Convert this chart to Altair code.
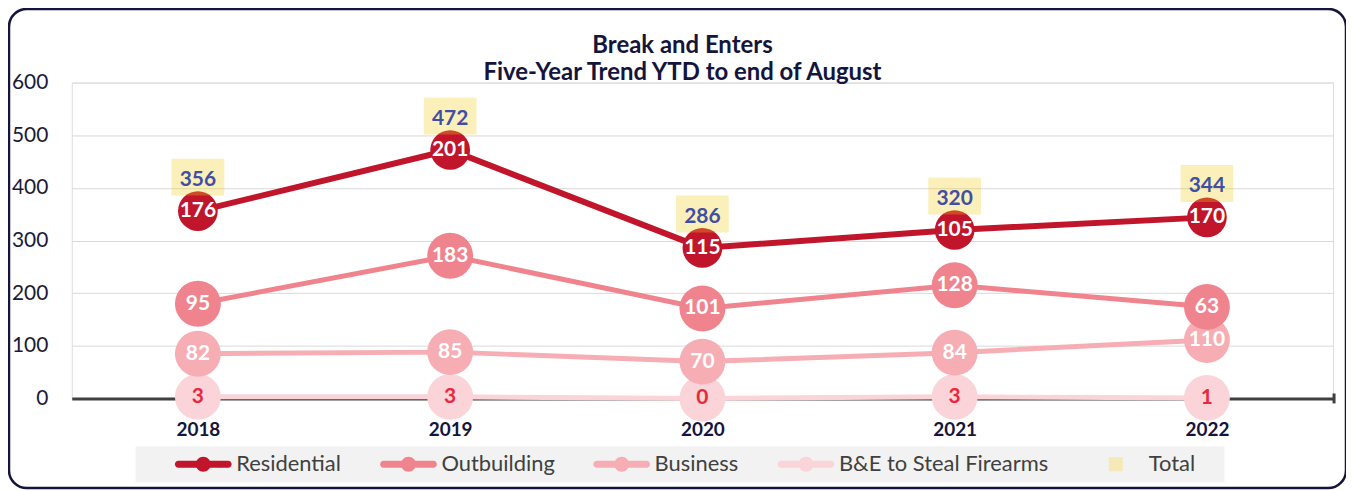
import altair as alt
import pandas as pd

years = ["2018", "2019", "2020", "2021", "2022"]
residential = [176, 201, 115, 105, 170]
outbuilding = [95, 183, 101, 128, 63]
business = [82, 85, 70, 84, 110]
firearms = [3, 3, 0, 3, 1]
totals = [356, 472, 286, 320, 344]

title_lines = ["Break and Enters", "Five-Year Trend YTD to end of August"]

series_names = ["B&E to Steal Firearms", "Business", "Outbuilding", "Residential"]
series_values = [firearms, business, outbuilding, residential]
series_colors = ["#FAD4D8", "#F6AEB4", "#F0848E", "#C0152B"]
line_widths = [5, 5, 5, 6]
circle_sizes = [2124, 2124, 2124, 1590]
label_colors = ["#E8283C", "white", "white", "white"]

legend_names = ["Residential", "Outbuilding", "Business", "B&E to Steal Firearms", "Total"]
legend_colors = ["#C0152B", "#F0848E", "#F6AEB4", "#FAD4D8", "#F5E9B8"]
LINE_DOT = ("M-0.63,-0.37L4.63,-0.37A0.37,0.37,0,0,1,4.63,0.37L-0.63,0.37"
            "A0.37,0.37,0,0,1,-0.63,-0.37Z M1.21,0A0.79,0.79,0,1,1,2.79,0"
            "A0.79,0.79,0,1,1,1.21,0Z")
SQUARE = "M1.26,-0.74L2.74,-0.74L2.74,0.74L1.26,0.74Z"
legend_shapes = [LINE_DOT, LINE_DOT, LINE_DOT, LINE_DOT, SQUARE]

# stacked positions (lines are cumulative, bottom series first)
rows = []
cum = [0] * len(years)
for name, vals in zip(series_names, series_values):
    for i, y in enumerate(years):
        cum[i] += vals[i]
        rows.append({"year": y, "series": name, "value": vals[i], "pos": cum[i]})
df = pd.DataFrame(rows)
tot_df = pd.DataFrame({"year": years, "total": totals})

W, H = 1266, 317
FONT = "Lato"

x_enc = alt.X("year:N", sort=years,
              scale=alt.Scale(type="point", padding=0.5),
              axis=alt.Axis(title=None, labelAngle=0, labelFont=FONT, labelFontSize=19,
                            labelFontWeight="bold", labelColor="#14143C", labelPadding=22,
                            ticks=False, tickSize=0, domainColor="#404040", domainWidth=3,
                            grid=False, labelBaseline="top"))
y_scale = alt.Scale(domain=[0, 600], nice=False)
y_axis = alt.Axis(title=None, values=[0, 100, 200, 300, 400, 500, 600], grid=True,
                  gridColor="#D9D9D9", gridWidth=1, domain=False, ticks=False, tickSize=0,
                  labelPadding=24, labelFont=FONT, labelFontSize=21, labelColor="#1A1A3A")

one = alt.Data(values=[{"a": 1}])

legend_bg = alt.Chart(one).mark_rect(color="#F2F2F2").encode(
    x=alt.value(64), x2=alt.value(1157), y=alt.value(365), y2=alt.value(401))
border = alt.Chart(one).mark_rect(filled=False, stroke="#14143C", strokeWidth=2.5,
                                  cornerRadius=18).encode(
    x=alt.value(-63), x2=alt.value(1279), y=alt.value(-74), y2=alt.value(407))
end_tick = alt.Chart(one).mark_rule(color="#404040", strokeWidth=3).encode(
    x=alt.value(W + 1), y=alt.value(H - 5), y2=alt.value(H + 5))
title1 = alt.Chart(one).mark_text(
    text=title_lines[0], font=FONT, fontSize=24, fontWeight="bold", color="#14143C",
    align="center", baseline="alphabetic").encode(x=alt.value(613), y=alt.value(-30))
title2 = alt.Chart(one).mark_text(
    text=title_lines[1], font=FONT, fontSize=24, fontWeight="bold", color="#14143C",
    align="center", baseline="alphabetic").encode(x=alt.value(613), y=alt.value(-3))

layers = [legend_bg, border, title1, title2]
for name, col, lw in zip(series_names, series_colors, line_widths):
    layers.append(
        alt.Chart(df).transform_filter(alt.datum.series == name)
        .mark_line(color=col, strokeWidth=lw)
        .encode(x=x_enc, y=alt.Y("pos:Q", scale=y_scale, axis=y_axis))
    )
for name, col, sz in zip(series_names, series_colors, circle_sizes):
    layers.append(
        alt.Chart(df).transform_filter(alt.datum.series == name)
        .mark_circle(color=col, size=sz, opacity=1)
        .encode(x=x_enc, y=alt.Y("pos:Q", scale=y_scale, axis=y_axis))
    )

box = alt.Chart(tot_df).mark_point(
    shape="M-1.43,-1L1.43,-1L1.43,1L-1.43,1Z", size=1369, filled=True,
    color="#F2CA19", opacity=0.3, strokeWidth=0, yOffset=-34
).encode(x=x_enc, y=alt.Y("total:Q", scale=y_scale, axis=y_axis))
layers.append(box)

for name, lc in zip(series_names, label_colors):
    layers.append(
        alt.Chart(df).transform_filter(alt.datum.series == name)
        .mark_text(font=FONT, fontSize=21, fontWeight="bold", color=lc, baseline="middle")
        .encode(x=x_enc, y=alt.Y("pos:Q", scale=y_scale, axis=y_axis), text="value:Q")
    )

tot_text = alt.Chart(tot_df).mark_text(
    font=FONT, fontSize=21, fontWeight="bold", color="#3F4FA3", baseline="middle", dy=-31
).encode(x=x_enc, y=alt.Y("total:Q", scale=y_scale, axis=y_axis), text="total:Q")
layers.append(tot_text)

leg_props = dict(title=None, orient="none", legendX=102, legendY=372, direction="horizontal",
                 symbolSize=361, symbolStrokeWidth=0, labelOffset=41, columnPadding=37,
                 padding=0, labelFont=FONT, labelFontSize=22, labelColor="#404040",
                 labelLimit=400)
legend_layer = alt.Chart(pd.DataFrame({"series": legend_names})).transform_filter(
    "false").mark_point(filled=True, opacity=1).encode(
    color=alt.Color("series:N", scale=alt.Scale(domain=legend_names, range=legend_colors),
                    legend=alt.Legend(**leg_props)),
    shape=alt.Shape("series:N", scale=alt.Scale(domain=legend_names, range=legend_shapes),
                    legend=alt.Legend(**leg_props)),
)
layers.append(legend_layer)
layers.append(end_tick)

chart = alt.layer(*layers).properties(
    width=W, height=H,
    padding={"left": 64, "top": 74, "right": 13, "bottom": 91},
    autosize=alt.AutoSizeParams(type="none"),
).configure_view(stroke=None).configure(background="white")

chart.save("out.html", embed_options={"renderer": "svg", "actions": False})
